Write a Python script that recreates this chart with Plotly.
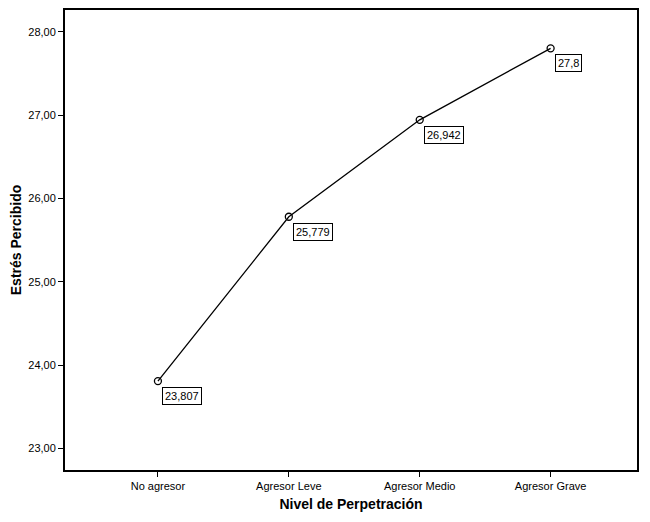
import plotly.graph_objects as go

categories = ["No agresor", "Agresor Leve", "Agresor Medio", "Agresor Grave"]
values = [23.807, 25.779, 26.942, 27.8]
labels = ["23,807", "25,779", "26,942", "27,8"]
yticks = [23, 24, 25, 26, 27, 28]

fig = go.Figure()
fig.add_trace(go.Scatter(x=[0, 1, 2, 3], y=values, mode="lines+markers",
    line=dict(color="black", width=1.3),
    marker=dict(symbol="circle-open", size=7, color="black", line=dict(width=1.3))))
for i, (v, t) in enumerate(zip(values, labels)):
    fig.add_annotation(x=i, y=v, text=t, showarrow=False, xanchor="left", yanchor="top",
        xshift=4, yshift=-6, bordercolor="black", borderwidth=1, borderpad=2,
        bgcolor="white", font=dict(family="Arial", size=11, color="black"))
fig.update_layout(width=650, height=522, margin=dict(l=57, r=21, t=0, b=60),
    plot_bgcolor="white", paper_bgcolor="white", showlegend=False,
    separators=",.", font=dict(family="Arial", color="black"))
fig.update_xaxes(range=[-0.71, 3.66], tickvals=[0, 1, 2, 3], ticktext=categories,
    showline=True, linecolor="black", linewidth=2, mirror=True, ticks="outside",
    ticklen=5, tickcolor="black", showgrid=False, zeroline=False,
    tickfont=dict(size=11), title=dict(text="<b>Nivel de Perpetración</b>", font=dict(size=14), standoff=8))
fig.update_yaxes(range=[22.74, 28.26], tickvals=yticks, tickformat=".2f",
    showline=True, linecolor="black", linewidth=2, mirror=True, ticks="outside",
    ticklen=5, tickcolor="black", showgrid=False, zeroline=False,
    tickfont=dict(size=11), title=dict(text="<b>Estrés Percibido</b>", font=dict(size=14), standoff=6))
fig.write_html("out.html")
